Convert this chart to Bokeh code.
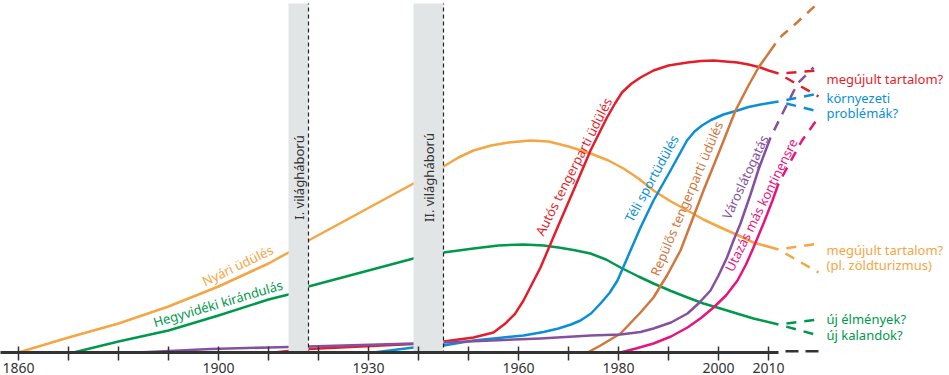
from bokeh.plotting import figure
from bokeh.models import Range1d, LinearAxis, FixedTicker, ColumnDataSource
from bokeh.core.properties import value
from bokeh.embed import file_html
from bokeh.resources import INLINE

# ---------------- data ----------------
tick_years = list(range(1860, 2011, 10))
labelled_years = [1860, 1900, 1930, 1960, 1980, 2000, 2010]

war_start = [1914, 1939]
war_end = [1918, 1945]
war_names = ["I. világháború", "II. világháború"]

# Nyári üdülés
summer_years = [1860, 1870, 1880, 1890, 1900, 1910, 1914, 1918, 1939, 1945, 1948, 1951, 1954.5, 1958, 1962.4, 1966, 1970, 1974.4, 1978, 1981, 1984, 1987, 1990.5, 1993.8, 1997, 2000.4, 2004, 2007, 2012]
summer_vals = [0, 15, 29, 46, 66, 89, 100, 112, 169, 186, 195, 202, 207, 210, 212, 211, 206, 199, 192, 184, 174, 162, 151, 142, 133, 125, 117, 110, 103]
# Hegyvidéki kirándulás
mountain_years = [1871, 1880, 1890, 1900, 1910, 1914, 1918, 1939, 1945, 1951, 1956, 1961, 1965, 1968, 1971, 1974.4, 1977.5, 1980.4, 1984, 1987, 1990.5, 1993.8, 1997, 2000.4, 2004, 2007, 2012]
mountain_vals = [0, 11, 22, 37, 53, 58, 66, 94, 100, 104, 107, 108, 107, 105, 102.5, 99, 93, 85, 76, 69, 61.5, 55, 49, 44, 38.5, 34, 28]
# Autós tengerparti üdülés
car_years = [1911, 1914, 1918, 1939, 1945, 1951, 1955, 1957.3, 1959.3, 1961, 1964.4, 1967.8, 1971, 1974.4, 1977.7, 1979.3, 1980.7, 1982.5, 1984.4, 1987, 1990, 1993.8, 1996.5, 1999, 2003.8, 2006, 2008.4, 2010, 2012]
car_vals = [0, 1.5, 3.5, 8.5, 11, 15, 20, 28.7, 38.7, 52, 85, 125, 162, 202, 235, 249, 260, 268.5, 275, 282, 287, 290, 291.5, 292, 290, 288, 285, 282, 279]
# Téli sportüdülés
winter_years = [1931, 1939, 1945, 1951, 1956, 1961, 1965, 1968, 1970.5, 1972.4, 1974.5, 1976.4, 1978.2, 1979.8, 1982.4, 1984.4, 1987, 1990.4, 1993.7, 1995.2, 1996.7, 1998.5, 2001, 2003.8, 2006, 2008.4, 2012]
winter_vals = [0, 5, 7, 12, 14.5, 17, 20.5, 24, 28, 32, 39, 49, 59.5, 72, 102, 125, 152, 182, 212, 221, 227, 232.5, 238, 242, 245.5, 248, 251]
# Repülős tengerparti üdülés
flight_years = [1973.8, 1976.4, 1980.4, 1984.4, 1987, 1989.7, 1992.4, 1994.7, 1997, 2000.4, 2003.4, 2006, 2008, 2011.4]
flight_vals = [0, 7, 19, 40, 55, 77, 102, 132, 162, 204, 242, 267, 285, 309]
# Városlátogatás
city_years = [1884, 1898.4, 1910, 1918, 1939, 1945, 1964.4, 1974.4, 1980.4, 1984.4, 1987, 1990.5, 1993.8, 1996, 1998.4, 2000, 2001.7, 2003, 2004.4, 2006.4, 2008, 2010.4]
city_vals = [0, 3.5, 5, 6, 9, 10, 14, 17, 18, 20.5, 24, 30, 39, 49, 62, 77, 95, 112, 129, 158, 183, 215]
# Utazás más kontinensre
long_years = [1980.4, 1983.5, 1987, 1990.5, 1993.8, 1996.5, 1999, 2001.5, 2003.8, 2005.5, 2007, 2009, 2010.8, 2012]
long_vals = [0, 4, 9, 16, 25, 34.5, 45, 57, 72, 88, 105, 129, 152, 169]

# projections (dashed)
proj_years = [2012, 2020]
summer_up = [103, 109]
summer_down = [103, 80]
mountain_up = [28, 33]
mountain_down = [28, 17]
car_up = [279, 282]
car_down = [279, 256]
winter_up = [251, 259]
winter_down = [251, 241]
flight_proj_years = [2011.4, 2012.7, 2015.7, 2019.8]
flight_proj_vals = [309, 317, 330, 349]
city_proj_years = [2010.4, 2015.8, 2019]
city_proj_vals = [215, 269, 285]
long_proj_years = [2012, 2016.7, 2020]
long_proj_vals = [169, 212, 235]

# ---------------- styles ----------------
ORANGE = "#f5a543"
GREEN = "#00994c"
RED = "#e31e2a"
BLUE = "#0a8fd6"
BROWN = "#d0773c"
PURPLE = "#8451a0"
MAGENTA = "#e5157f"
DARK = "#333333"
BAND = "#e2e5e6"
FONT = "Noto Sans"

p = figure(width=949, height=375,
           x_range=Range1d(1856.4, 2046.2), y_range=Range1d(0, 352),
           x_axis_location=None, y_axis_location=None,
           output_backend="svg", toolbar_location=None,
           min_border=0, min_border_bottom=23)
p.outline_line_color = None
p.background_fill_color = "white"
p.border_fill_color = "white"
p.grid.visible = False

ax = LinearAxis(ticker=FixedTicker(ticks=tick_years), bounds=(1856.4, 2012.0))
ax.major_label_overrides = {y: (str(y) if y in labelled_years else "") for y in tick_years}
ax.minor_tick_line_color = None
ax.major_tick_in = 6
ax.major_tick_out = 8
ax.axis_line_width = 3
ax.axis_line_color = DARK
ax.major_tick_line_width = 1.5
ax.major_tick_line_color = DARK
ax.major_label_text_font = FONT
ax.major_label_text_font_size = "14px"
ax.major_label_text_color = DARK
ax.major_label_standoff = 2
p.add_layout(ax, "below")

# dashed continuation of the time axis
p.line(x=[proj_years[0], proj_years[1]], y=[1, 1], line_color=DARK, line_width=3,
       line_dash="13 7", line_dash_offset=13)

LW = 2.5
series = [
    (summer_years, summer_vals, ORANGE),
    (mountain_years, mountain_vals, GREEN),
    (car_years, car_vals, RED),
    (winter_years, winter_vals, BLUE),
    (flight_years, flight_vals, BROWN),
    (city_years, city_vals, PURPLE),
    (long_years, long_vals, MAGENTA),
]
for xs, ys, c in series:
    p.line(xs, ys, line_color=c, line_width=LW, line_join="round")

dashed = [
    (proj_years, summer_up, ORANGE), (proj_years, summer_down, ORANGE),
    (proj_years, mountain_up, GREEN), (proj_years, mountain_down, GREEN),
    (proj_years, car_up, RED), (proj_years, car_down, RED),
    (proj_years, winter_up, BLUE), (proj_years, winter_down, BLUE),
    (flight_proj_years, flight_proj_vals, BROWN),
    (city_proj_years, city_proj_vals, PURPLE),
    (long_proj_years, long_proj_vals, MAGENTA),
]
for xs, ys, c in dashed:
    p.line(xs, ys, line_color=c, line_width=LW, line_dash="10 8", line_dash_offset=10)

# world war bands (drawn over the curves)
band_top = 349
p.quad(left=war_start, right=war_end, bottom=-2, top=band_top,
       fill_color=BAND, line_color=None)
p.segment(x0=war_end, y0=-2, x1=war_end, y1=band_top,
          line_color="#222222", line_width=1.2, line_dash="4 3")
p.text(x=[(a + b) / 2 + 0.1 for a, b in zip(war_start, war_end)], y=[175, 175], text=war_names,
       angle=90, angle_units="deg", text_color=DARK, text_font=value(FONT),
       text_font_size="13px", text_align="center", text_baseline="middle")

# curve labels
curve_labels = ColumnDataSource(dict(
    x=[1903.8, 1899.9, 1971.0, 1986.6, 1993.6, 2005.3, 2008.5],
    y=[87, 49, 186, 174, 154, 175.5, 147.5],
    text=["Nyári üdülés", "Hegyvidéki kirándulás", "Autós tengerparti üdülés",
          "Téli sportüdülés", "Repülős tengerparti üdülés", "Városlátogatás",
          "Utazás más kontinensre"],
    angle=[25.6, 16.5, 63.0, 61.2, 67.0, 64.8, 63.6],
    color=[ORANGE, GREEN, RED, BLUE, BROWN, PURPLE, MAGENTA],
))
p.text(x="x", y="y", text="text", angle="angle", angle_units="deg", source=curve_labels,
       text_color="color", text_font=value(FONT), text_font_size="13px",
       text_align="center", text_baseline="middle")

# right-hand outlook labels
side_labels = ColumnDataSource(dict(
    x=[2021.6] * 7,
    y=[274, 255, 240, 103, 88, 34, 18],
    text=["megújult tartalom?", "környezeti", "problémák?",
          "megújult tartalom?", "(pl. zöldturizmus)", "új élmények?", "új kalandok?"],
    color=[RED, BLUE, BLUE, ORANGE, ORANGE, GREEN, GREEN],
))
p.text(x="x", y="y", text="text", source=side_labels, text_color="color",
       text_font=value(FONT), text_font_size="13px",
       text_align="left", text_baseline="middle")

open("out.html", "w").write(file_html(p, INLINE))
